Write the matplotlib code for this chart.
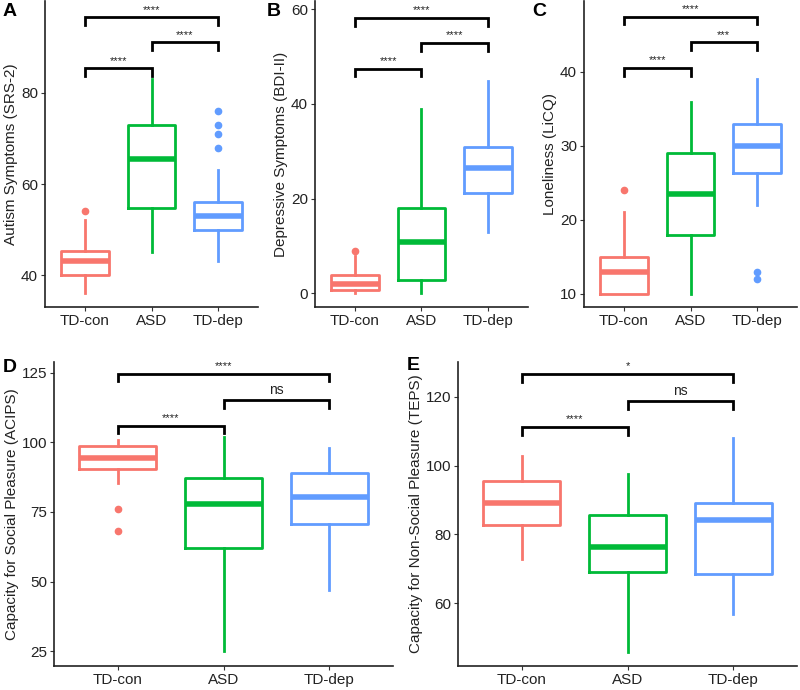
import matplotlib
matplotlib.use("Agg")
import matplotlib.pyplot as plt

plt.rcParams['font.family'] = ['Liberation Sans', 'DejaVu Sans']

groups = ["TD-con", "ASD", "TD-dep"]
colors = ["#F8766D", "#00BA38", "#619CFF"]

# box stats per panel: [TD-con, ASD, TD-dep]
# A - SRS-2
a_lo = [36, 45, 43]
a_q1 = [40, 54.7, 50]
a_med = [43, 65.5, 53]
a_q3 = [45.2, 72.9, 56]
a_hi = [52, 83, 63]
a_out = [[54], [], [68, 71, 73, 76]]

# B - BDI-II
b_lo = [0, 0, 13]
b_q1 = [0.7, 2.9, 21.2]
b_med = [2, 10.9, 26.5]
b_q3 = [3.9, 18, 30.8]
b_hi = [7.9, 38.9, 44.9]
b_out = [[9], [], []]

# C - LiCQ
c_lo = [10, 10, 22]
c_q1 = [10, 18, 26.3]
c_med = [13, 23.5, 30]
c_q3 = [15, 29, 33]
c_hi = [21, 36, 39]
c_out = [[24], [], [12, 13]]

# D - ACIPS
d_lo = [85.3, 25, 47]
d_q1 = [90.4, 62, 70.7]
d_med = [94.2, 78, 80.2]
d_q3 = [98.6, 87.2, 89.1]
d_hi = [100.8, 102, 98]
d_out = [[68, 76], [], []]

# E - TEPS
e_lo = [73, 46, 57]
e_q1 = [82.7, 69, 68.4]
e_med = [89, 76.5, 84.1]
e_q3 = [95.4, 85.7, 89.2]
e_hi = [102.8, 97.7, 107.9]
e_out = [[], [], []]

# brackets: (from group, to group), top height, label
pairs = [(1, 2), (2, 3), (1, 3)]
a_brk = [85.4, 91.1, 96.6]
b_brk = [47.4, 52.8, 58.1]
c_brk = [40.5, 44.0, 47.5]
d_brk = [106.0, 115.1, 124.6]
e_brk = [111.2, 118.8, 126.6]
a_sig = ["****", "****", "****"]
b_sig = ["****", "****", "****"]
c_sig = ["****", "***", "****"]
d_sig = ["****", "ns", "****"]
e_sig = ["****", "ns", "*"]

# tag, y label, stats..., ylim, yticks, axes box (px), tag position (px)
panels = [
    ("A", "Autism Symptoms (SRS-2)", a_lo, a_q1, a_med, a_q3, a_hi, a_out, a_brk, a_sig,
     (33.0, 100.2), [40, 60, 80], [45, 1, 213, 306], (3, 12)),
    ("B", "Depressive Symptoms (BDI-II)", b_lo, b_q1, b_med, b_q3, b_hi, b_out, b_brk, b_sig,
     (-2.9, 61.7), [0, 20, 40, 60], [315, 1, 213, 306], (267, 11)),
    ("C", "Loneliness (LiCQ)", c_lo, c_q1, c_med, c_q3, c_hi, c_out, c_brk, c_sig,
     (8.2, 49.6), [10, 20, 30, 40], [584, 1, 213, 306], (532, 11)),
    ("D", "Capacity for Social Pleasure (ACIPS)", d_lo, d_q1, d_med, d_q3, d_hi, d_out, d_brk, d_sig,
     (19.7, 128.8), [25, 50, 75, 100, 125], [54, 362, 339, 304], (3, 367)),
    ("E", "Capacity for Non-Social Pleasure (TEPS)", e_lo, e_q1, e_med, e_q3, e_hi, e_out, e_brk, e_sig,
     (41.8, 130.1), [60, 80, 100, 120], [458, 362, 339, 304], (407, 365)),
]

W, H = 800, 690
fig = plt.figure(figsize=(8, 6.9), dpi=100)

for (tag, ylab, lo, q1, med, q3, hi, out, brk, sig, ylim, yticks, box, tpos) in panels:
    x0, y0, w, h = box
    ax = fig.add_axes([x0 / W, 1 - (y0 + h) / H, w / W, h / H])
    for i in range(3):
        st = [dict(whislo=lo[i], q1=q1[i], med=med[i], q3=q3[i], whishi=hi[i], fliers=out[i])]
        c = colors[i]
        ax.bxp(st, positions=[i + 1], widths=0.72, showcaps=False, patch_artist=False,
               boxprops=dict(color=c, lw=2),
               whiskerprops=dict(color=c, lw=2),
               medianprops=dict(color=c, lw=4, solid_capstyle='butt'),
               flierprops=dict(marker='o', markerfacecolor=c, markeredgecolor=c, markersize=4.5))
    ax.set_xlim(0.4, 3.6)
    ax.set_ylim(*ylim)
    leg = 0.025 * (ylim[1] - ylim[0])
    for (g1, g2), yb, s in zip(pairs, brk, sig):
        ax.plot([g1, g1, g2, g2], [yb - leg, yb, yb, yb - leg], color='black', lw=2,
                solid_joinstyle='miter', clip_on=False)
        fs = 10 if s == "ns" else 8
        ax.annotate(s, xy=((g1 + g2) / 2, yb), xytext=(0, 2), textcoords='offset points',
                    ha='center', va='bottom', fontsize=fs, color='#222222', annotation_clip=False)
    ax.set_xticks([1, 2, 3])
    ax.set_xticklabels(groups, fontsize=11, color='#222222')
    ax.set_yticks(yticks)
    ax.set_yticklabels([str(t) for t in yticks], fontsize=11, color='#222222')
    ax.tick_params(length=3, width=0.8, color='#333333', pad=2)
    ax.set_ylabel(ylab, fontsize=11, color='#222222', labelpad=2)
    for sp in ['top', 'right']:
        ax.spines[sp].set_visible(False)
    for sp in ['left', 'bottom']:
        ax.spines[sp].set_linewidth(1.2)
        ax.spines[sp].set_color('#222222')
    fig.text(tpos[0] / W, 1 - tpos[1] / H, tag, fontsize=14, fontweight='bold',
             va='center', ha='left')

plt.savefig("out.png", dpi=100)
